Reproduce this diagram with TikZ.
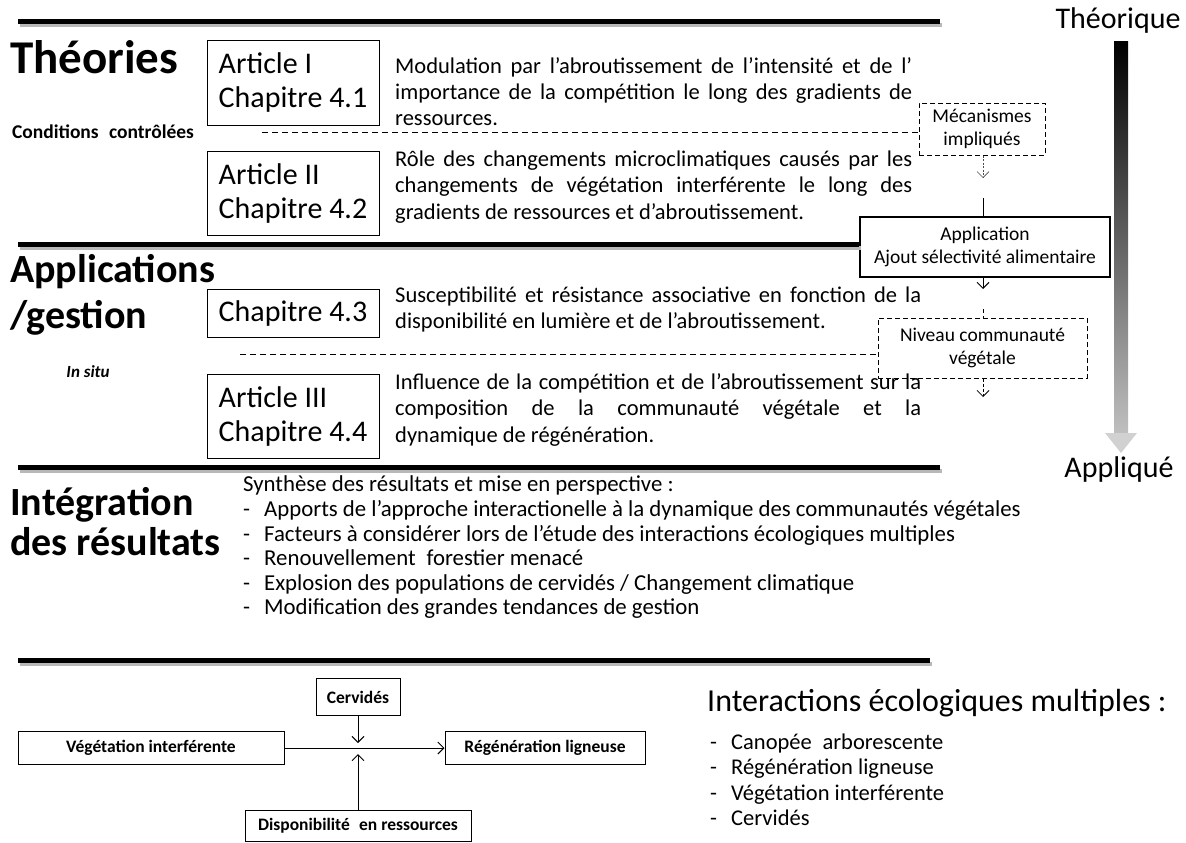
\documentclass[tikz,border=0pt]{standalone}
\usepackage{fontspec}
\setmainfont{Carlito}
\usetikzlibrary{arrows.meta}
\newcommand\fsz[2]{\fontsize{#1}{#2}\selectfont}
\newcommand\jline[2]{\makebox[#1][s]{#2}}
\newcommand\dashitem[1]{\makebox[21pt][l]{-}#1}
\begin{document}
\begin{tikzpicture}[x=1pt,y=-1pt,
  sepline/.style={line width=5pt},
  sepshadow/.style={line width=4pt, black!28, transform canvas={shift={(1.5pt,-3.5pt)}}},
  artbox/.style={draw, line width=1pt, minimum width=172pt, minimum height=84pt, align=left, font=\fsz{30}{34}},
  para/.style={anchor=north west, inner sep=0pt, align=left, font=\fsz{22.5}{26.3}},
  bigtitle/.style={anchor=base west, inner sep=0pt, font=\bfseries\fsz{40}{46}},
  note/.style={inner sep=0pt, font=\bfseries\fsz{19.5}{22}},
  dashbox/.style={draw, dash pattern=on 5pt off 3pt, line width=1pt, align=center, font=\fsz{19.5}{23}},
  solidbox/.style={draw, line width=1.3pt, align=center, font=\fsz{19.5}{23}},
  divider/.style={dash pattern=on 6pt off 4pt, line width=1pt},
  barb/.style={-{Straight Barb[length=6pt,width=12pt]}},
  diagbox/.style={draw, line width=1pt, inner sep=0pt, font=\bfseries\fsz{17.5}{20}},
  ]
\useasboundingbox (0,0) rectangle (1186,843);

% thick separators
\foreach \yy/\xa/\xb in {22/18/940, 467/18/940, 660/18/930}{
  \draw[sepshadow] (\xa,\yy) -- (\xb,\yy);
  \draw[sepline] (\xa,\yy) -- (\xb,\yy);
}

% titles
\node[anchor=base west, inner sep=0pt, font=\bfseries\fsz{47}{52}] (t1) at (10,74) {Théories};
\node[bigtitle] (t2) at (10,282) {Applications};
\node[bigtitle] (t3) at (10,328) {/gestion};
\node[bigtitle] (t4) at (10,515) {Intégration};
\node[bigtitle] (t5) at (10,555) {des résultats};
\node[note] (cc) at (103,132) {Conditions\hspace{0.3em} contrôlées};
\node[note, font=\bfseries\itshape\fsz{17}{20}] (is) at (88,372) {In situ};

% article boxes
\node[artbox] (a1) at (293,83) {Article I\\Chapitre 4.1};
\node[artbox] (a2) at (293,193.5) {Article II\\Chapitre 4.2};
\node[artbox, minimum height=48pt] (a3) at (293,313) {Chapitre 4.3};
\node[artbox] (a4) at (293,416.5) {Article III\\Chapitre 4.4};

% paragraphs
\node[para] (p1) at (395,54.5) {\strut\jline{517pt}{Modulation par l’abroutissement de l’intensité et de l’}\\
  \jline{517pt}{importance de la compétition le long des gradients de}\\
  ressources.};
\node[para] (p2) at (395,148) {\strut\jline{517pt}{Rôle des changements microclimatiques causés par les}\\
  \jline{517pt}{changements de végétation interférente le long des}\\
  gradients de ressources et d’abroutissement.};
\node[para] (p3) at (395,284) {\strut\jline{526pt}{Susceptibilité et résistance associative en fonction de la}\\
  disponibilité en lumière et de l’abroutissement.};
\node[para] (p4) at (395,371) {\strut\jline{526pt}{Influence de la compétition et de l’abroutissement sur la}\\
  \jline{526pt}{composition de la communauté végétale et la}\\
  dynamique de régénération.};

% right column boxes
\node[dashbox, minimum width=126pt, minimum height=52pt] (mech) at (982,129) {Mécanismes\\impliqués};
\node[solidbox, fill=white, minimum width=250pt, minimum height=60pt] (app) at (985,247) {Application\\Ajout sélectivité alimentaire};
\node[dashbox, minimum width=209pt, minimum height=60pt] (niv) at (982.5,348) {Niveau communauté\\végétale};

% second thick separator ends at Application box
\coordinate (l2) at (18,244);
\draw[sepshadow] (l2) -- (l2 -| app.west);
\draw[sepline] (l2) -- (l2 -| app.west);

% dashed dividers
\coordinate (d1) at (262,132);
\draw[divider] (d1) -- (d1 -| mech.west);
\coordinate (d2) at (240,354);
\draw[divider] (d2) -- (d2 -| niv.west);

% right column connectors
\coordinate (m1) at (983,178);
\draw[barb, line width=0.6pt, black!70, dash pattern=on 2pt off 1.5pt] (m1 |- mech.south) -- (m1);
\coordinate (a0) at (983,198);
\draw[line width=1pt] (a0) -- (a0 |- app.north);
\coordinate (ab) at (983,289);
\draw[barb, line width=1pt] (ab |- app.south) -- (ab);
\coordinate (n0) at (983,309);
\draw[line width=1pt, dash pattern=on 4pt off 3pt] (n0) -- (n0 |- niv.north);
\coordinate (nb) at (983,397);
\draw[barb, line width=0.8pt, dash pattern=on 3pt off 2pt] (nb |- niv.south) -- (nb);

% gradient arrow
\shade[top color=black, bottom color=black!25] (1114,42) rectangle (1128,433);
\fill[black!18] (1105,433) -- (1137,433) -- (1121,453) -- cycle;
\node[inner sep=0pt, font=\fsz{30}{34}] (th) at (1118,21) {Théorique};
\node[inner sep=0pt, font=\fsz{30}{34}] (ap) at (1119,469) {Appliqué};

% synthesis
\node[para, font=\fsz{22.8}{24.6}] (syn) at (243,474.5) {\strut Synthèse des résultats et mise en perspective :\\
  \dashitem{Apports de l’approche interactionelle à la dynamique des communautés végétales}\\
  \dashitem{Facteurs à considérer lors de l’étude des interactions écologiques multiples}\\
  \dashitem{Renouvellement\hspace{0.25em} forestier menacé}\\
  \dashitem{Explosion des populations de cervidés / Changement climatique}\\
  \dashitem{Modification des grandes tendances de gestion}};

% bottom diagram
\node[diagbox, minimum width=84pt, minimum height=37pt] (cerv) at (358,697) {Cervidés};
\node[diagbox, minimum width=266pt, minimum height=33pt] (veg) at (151,748) {Végétation interférente};
\node[diagbox, minimum width=200pt, minimum height=33pt] (reg) at (545,748) {Régénération ligneuse};
\node[diagbox, minimum width=226pt, minimum height=31pt] (disp) at (358,826) {Disponibilité\hspace{0.3em} en ressources};
\coordinate (c1) at (358,743);
\draw[barb, line width=1pt] (cerv.south) -- (c1);
\draw[barb, line width=1pt] (veg.east) -- (reg.west);
\coordinate (c2) at (358,754);
\draw[barb, line width=1pt] (disp.north) -- (c2);

% interactions list
\node[anchor=base west, inner sep=0pt, font=\fsz{32}{36}] (it) at (707,711) {Interactions écologiques multiples :};
\node[para, font=\fsz{22.5}{25.5}] (il) at (710,731) {\strut\dashitem{Canopée\hspace{0.25em} arborescente}\\
  \dashitem{Régénération ligneuse}\\
  \dashitem{Végétation interférente}\\
  \dashitem{Cervidés}};
\end{tikzpicture}
\end{document}
